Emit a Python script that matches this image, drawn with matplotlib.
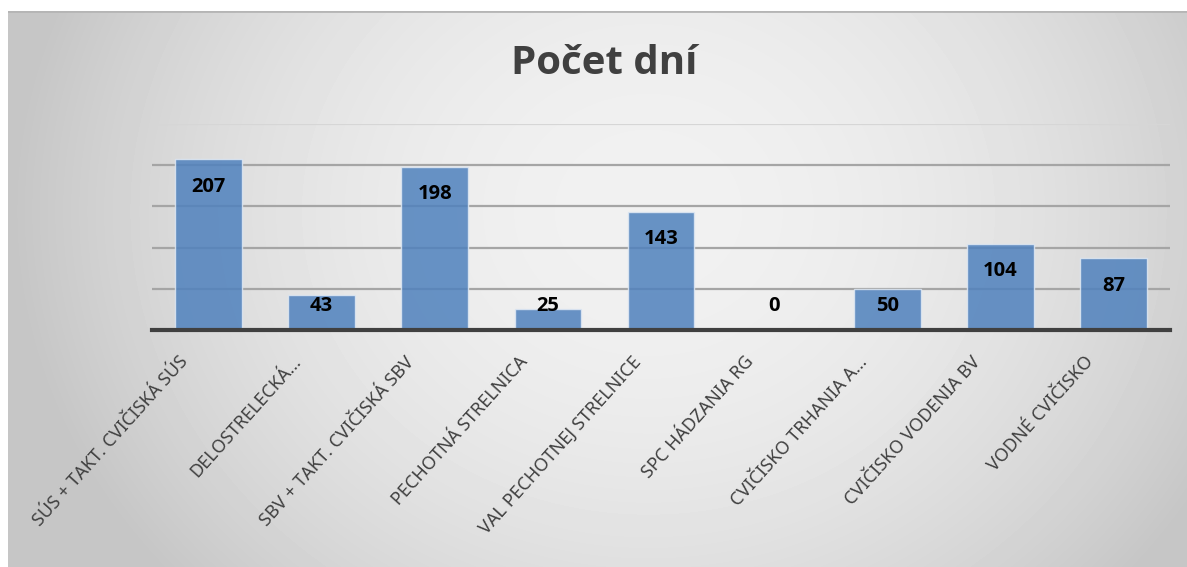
import numpy as np
import matplotlib
matplotlib.use("Agg")
import matplotlib.pyplot as plt
from matplotlib.transforms import ScaledTranslation

categories = ["SÚS + TAKT. CVIČISKÁ SÚS", "DELOSTRELECKÁ...", "SBV + TAKT. CVIČISKÁ SBV",
              "PECHOTNÁ STRELNICA", "VAL PECHOTNEJ STRELNICE", "SPC HÁDZANIA RG",
              "CVIČISKO TRHANIA A...", "CVIČISKO VODENIA BV", "VODNÉ CVIČISKO"]
days = [207, 43, 198, 25, 143, 0, 50, 104, 87]
title = "Počet dní"

plt.rcParams['font.family'] = ['Noto Sans', 'DejaVu Sans']
bold_font = ['Open Sans', 'DejaVu Sans']

W, H = 1187, 567
fig = plt.figure(figsize=(W / 100, H / 100), dpi=100)
fig.patch.set_facecolor("white")

# gradient background of the chart frame
bg = fig.add_axes([8 / W, 0, 1 - 8 / W, 1 - 11 / H])
bg.set_axis_off()
yy, xx = np.mgrid[0:556, 0:1179]
d2 = ((xx - 640) / 640.0) ** 2 + ((yy - 200) / 560.0) ** 2
shade = np.clip(241 - 44 * d2, 198, 241) / 255.0
bg.imshow(shade, cmap="gray", vmin=0, vmax=1, aspect="auto", interpolation="bilinear")
bg.axhline(-0.5, color="#b5b5b5", lw=2)

# plot area
ax = fig.add_axes([152 / W, 1 - 330 / H, (1170 - 152) / W, (330 - 124) / H])
ax.patch.set_alpha(0)
x = np.arange(len(categories))
bars = ax.bar(x, days, width=0.59, color="#4F81BD", alpha=0.85,
              edgecolor="#dfe8f3", linewidth=1, zorder=2)
ax.set_xlim(-0.5, len(categories) - 0.5)
ax.set_ylim(0, 250)
ax.set_yticks([50, 100, 150, 200, 250])
ax.yaxis.grid(True, color="#a5a5a5", linewidth=1.6, zorder=0)
ax.set_axisbelow(True)
ax.yaxis.get_gridlines()[-1].set_color("#d6d6d6")
ax.tick_params(axis="y", left=False, labelleft=False)
ax.tick_params(axis="x", bottom=False, pad=13)
for s in ["top", "right", "left"]:
    ax.spines[s].set_visible(False)
ax.spines["bottom"].set_color("#404040")
ax.spines["bottom"].set_linewidth(3)
ax.spines["bottom"].set_zorder(3)

ax.set_xticks(x)
ax.set_xticklabels(categories, rotation=48, ha="right", va="top",
                   rotation_mode="anchor", fontsize=13, color="#404040")
off = ScaledTranslation(-30 / 100, 0, fig.dpi_scale_trans)
for lbl in ax.get_xticklabels():
    lbl.set_transform(lbl.get_transform() + off)

# data labels: inside the top of the bar, or just above the axis for short bars
for xi, v in zip(x, days):
    y_lab = max(v - 33, 29)
    ax.text(xi, y_lab, str(v), ha="center", va="center", fontsize=14.5,
            fontweight="bold", family=bold_font, color="black", zorder=4)

fig.text(604 / W, 1 - 63 / H, title, ha="center", va="center",
         fontsize=29, fontweight="bold", family=bold_font, color="#404040")

fig.savefig("out.png", dpi=100)
